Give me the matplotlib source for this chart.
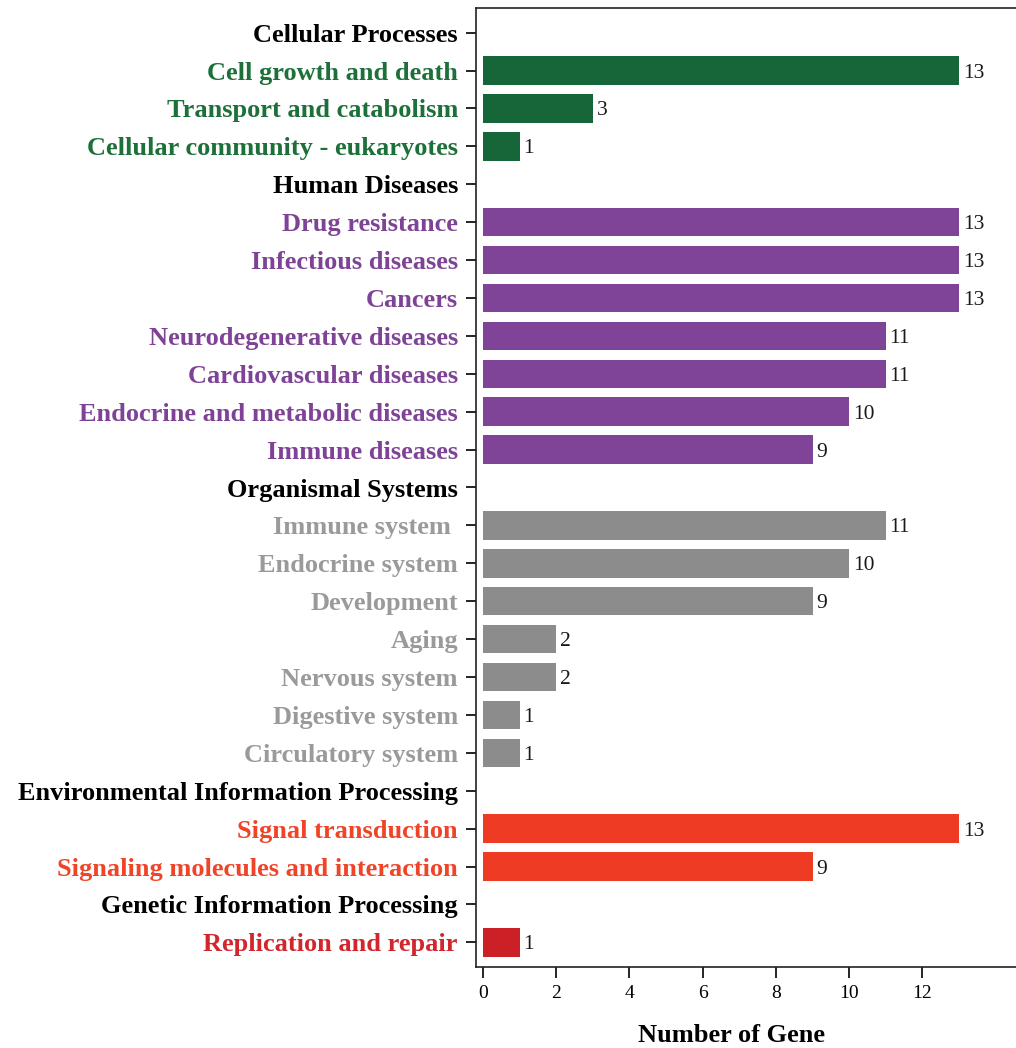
import matplotlib
matplotlib.use("Agg")
import matplotlib.pyplot as plt
import numpy as np

# KEGG pathway categories, top to bottom; group headers carry no count
labels = [
    "Cellular Processes",
    "Cell growth and death",
    "Transport and catabolism",
    "Cellular community - eukaryotes",
    "Human Diseases",
    "Drug resistance",
    "Infectious diseases",
    "Cancers",
    "Neurodegenerative diseases",
    "Cardiovascular diseases",
    "Endocrine and metabolic diseases",
    "Immune diseases",
    "Organismal Systems",
    "Immune system ",
    "Endocrine system",
    "Development",
    "Aging",
    "Nervous system",
    "Digestive system",
    "Circulatory system",
    "Environmental Information Processing",
    "Signal transduction",
    "Signaling molecules and interaction",
    "Genetic Information Processing",
    "Replication and repair",
]
counts = [None, 13, 3, 1,
          None, 13, 13, 13, 11, 11, 10, 9,
          None, 11, 10, 9, 2, 2, 1, 1,
          None, 13, 9,
          None, 1]
groups = ["header", "cell", "cell", "cell",
          "header", "human", "human", "human", "human", "human", "human", "human",
          "header", "organ", "organ", "organ", "organ", "organ", "organ", "organ",
          "header", "env", "env",
          "header", "gen"]

bar_colors = {"cell": "#17663a", "human": "#7f4397", "organ": "#8c8c8c",
              "env": "#ee3b24", "gen": "#cc2027", "header": "black"}
text_colors = {"cell": "#1d7039", "human": "#7e4396", "organ": "#9a9a9a",
               "env": "#f04428", "gen": "#d2252c", "header": "black"}

xticks = [0, 2, 4, 6, 8, 10, 12]

W, H = 1016, 1048
fig = plt.figure(figsize=(W / 100, H / 100), dpi=100)
ax = fig.add_axes([476 / W, (H - 967) / H, 560 / W, (967 - 8) / H])

serif = ["Liberation Serif", "DejaVu Serif"]
n = len(labels)
ypos = np.arange(n)

for y, c, g in zip(ypos, counts, groups):
    if c is None:
        continue
    ax.barh(y, c, height=0.75, color=bar_colors[g], edgecolor="none")
    ax.text(c + 0.1, y, str(c), va="center_baseline", ha="left",
            fontsize=15.5, family=serif, color="#1a1a1a")

ax.set_ylim(n - 1 + 0.65, -0.65)
ax.set_xlim(-0.19, 15.1)

ax.set_yticks(ypos)
ax.set_yticklabels(labels, fontsize=19, family=serif, fontweight="bold")
for tl, g in zip(ax.get_yticklabels(), groups):
    tl.set_color(text_colors[g])

ax.set_xticks(xticks)
ax.set_xticklabels([str(t) for t in xticks], fontsize=14, family=serif)
ax.tick_params(axis="y", length=7, width=1.2, pad=6)
ax.tick_params(axis="x", length=8, width=1.2, pad=5)

for s in ["left", "bottom", "top", "right"]:
    ax.spines[s].set_linewidth(1.2)
    ax.spines[s].set_color("#222222")

ax.set_xlabel("Number of Gene", fontsize=19, family=serif, fontweight="bold")
ax.xaxis.set_label_coords(0.457, -0.059)

fig.savefig("out.png", dpi=100)
